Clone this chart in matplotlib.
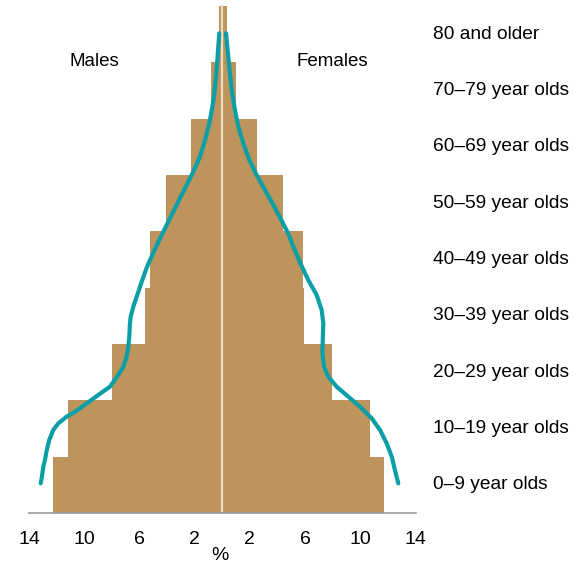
import matplotlib.pyplot as plt

plt.rcParams["font.family"] = ["Liberation Sans", "DejaVu Sans"]

# age groups, bottom to top
age_labels = [
    "0–9 year olds", "10–19 year olds", "20–29 year olds", "30–39 year olds",
    "40–49 year olds", "50–59 year olds", "60–69 year olds", "70–79 year olds",
    "80 and older",
]
males_pct = [12.3, 11.2, 8.0, 5.6, 5.25, 4.05, 2.3, 0.8, 0.22]
females_pct = [11.75, 10.7, 7.95, 5.95, 5.85, 4.4, 2.55, 1.0, 0.32]

# smooth comparison curves as (age position, percent)
male_curve_y = [0.027, 0.144, 0.322, 0.44, 0.618, 0.796, 0.973, 1.092, 1.21, 1.298,
                1.447, 1.595, 1.742, 1.95, 2.097, 2.275, 2.452, 2.63, 2.867, 2.985,
                3.162, 3.40, 3.636, 3.873, 4.12, 4.377, 4.613, 4.849, 5.087, 5.323,
                5.559, 5.825, 6.122, 6.418, 6.713, 6.95, 7.245, 7.54, 7.78, 8.016]
male_curve_x = [13.16, 13.07, 12.97, 12.85, 12.72, 12.54, 12.25, 11.88, 11.28, 10.67,
                9.83, 8.99, 8.14, 7.54, 7.17, 6.93, 6.81, 6.74, 6.69, 6.64,
                6.45, 6.12, 5.80, 5.45, 5.0, 4.51, 4.03, 3.55, 3.07, 2.58,
                2.10, 1.62, 1.25, 0.94, 0.72, 0.58, 0.46, 0.36, 0.29, 0.22]
female_curve_y = [0.027, 0.263, 0.50, 0.737, 0.973, 1.181, 1.387, 1.565, 1.742, 1.92,
                  2.097, 2.335, 2.571, 2.868, 3.104, 3.37, 3.636, 3.933, 4.228, 4.45,
                  4.70, 4.968, 5.234, 5.50, 5.767, 6.063, 6.358, 6.65, 6.95, 7.245,
                  7.54, 7.78, 8.016]
female_curve_x = [12.75, 12.51, 12.28, 11.91, 11.43, 10.83, 9.98, 9.13, 8.29, 7.68,
                  7.37, 7.25, 7.28, 7.32, 7.20, 6.84, 6.23, 5.66, 5.15, 4.80,
                  4.28, 3.70, 3.09, 2.49, 1.96, 1.52, 1.16, 0.92, 0.72, 0.58,
                  0.46, 0.36, 0.27]

tick_values = [-14, -10, -6, -2, 2, 6, 10, 14]
tick_labels = ["14", "10", "6", "2", "2", "6", "10", "14"]

bar_color = "#BD945B"
curve_color = "#0A9EA6"

fig = plt.figure(figsize=(5.86, 5.66), dpi=100)
ax = fig.add_axes([0.0261, 0.0936, 0.7065, 0.9057])

pos = list(range(len(age_labels)))
ax.barh(pos, [-v for v in males_pct], height=1.0, color=bar_color, linewidth=0, zorder=1)
ax.barh(pos, females_pct, height=1.0, color=bar_color, linewidth=0, zorder=1)
ax.plot([0, 0], [-0.5, 8.5], color="#EEDDC0", linewidth=1.6, zorder=2)

ax.plot([-v for v in male_curve_x], male_curve_y, color=curve_color,
        linewidth=3.0, solid_capstyle="round", solid_joinstyle="round", zorder=3)
ax.plot(female_curve_x, female_curve_y, color=curve_color,
        linewidth=3.0, solid_capstyle="round", solid_joinstyle="round", zorder=3)

ax.set_xlim(-15, 15)
ax.set_ylim(-0.5, 8.6)
for side in ["top", "right", "left"]:
    ax.spines[side].set_visible(False)
ax.spines["bottom"].set_bounds(-14, 14)
ax.spines["bottom"].set_color("#9A9A9A")
ax.spines["bottom"].set_linewidth(1.2)
ax.set_yticks([])
ax.set_xticks(tick_values)
ax.set_xticklabels(tick_labels, fontsize=14)
ax.tick_params(axis="x", length=0, pad=13)
fig.text(220 / 586, 1 - 556 / 566, "%", ha="center", va="center", fontsize=14)

ax.text(-9.25, 7.52, "Males", ha="center", va="center", fontsize=13.5)
ax.text(7.95, 7.52, "Females", ha="center", va="center", fontsize=13.5)
for p, label in zip(pos, age_labels):
    ax.text(15.25, p, label, ha="left", va="center", fontsize=13.8, clip_on=False)

fig.savefig("out.png", dpi=100)
